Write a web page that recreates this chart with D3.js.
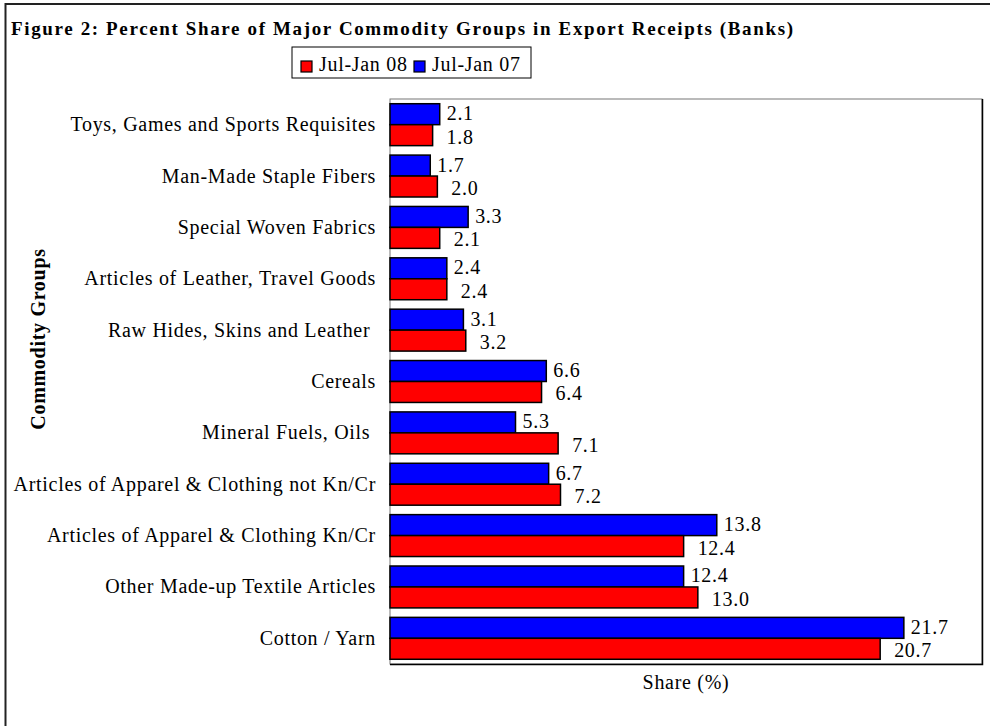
<!DOCTYPE html>
<html>
<head>
<meta charset="utf-8">
<script src="https://cdn.jsdelivr.net/npm/d3@7"></script>
<style>
  body { margin: 0; background: #fff; }
  text { font-family: "Liberation Serif", "Times New Roman", serif; fill: #000; }
</style>
</head>
<body>
<svg width="990" height="726"></svg>
<script>
let categories = [
    "Toys, Games and Sports Requisites",
    "Man-Made Staple Fibers",
    "Special Woven Fabrics",
    "Articles of Leather, Travel Goods",
    "Raw Hides, Skins and Leather ",
    "Cereals",
    "Mineral Fuels, Oils ",
    "Articles of Apparel & Clothing not Kn/Cr",
    "Articles of Apparel & Clothing Kn/Cr",
    "Other Made-up Textile Articles",
    "Cotton / Yarn"
];
let jan07 = [2.1, 1.7, 3.3, 2.4, 3.1, 6.6, 5.3, 6.7, 13.8, 12.4, 21.7];
let jan08 = [1.8, 2.0, 2.1, 2.4, 3.2, 6.4, 7.1, 7.2, 12.4, 13.0, 20.7];
let seriesNames = ["Jul-Jan 08", "Jul-Jan 07"];
let xDomain = [0, 25];

let svg = d3.select("svg");
let fontSize = 20;
let spacing = "0.7px";

// outer frame (only top and left edges are inside the picture)
svg.append("rect")
    .attr("x", 5.5).attr("y", 4)
    .attr("width", 1100).attr("height", 900)
    .attr("fill", "none")
    .attr("stroke", "#222")
    .attr("stroke-width", 2);

svg.append("text")
    .attr("x", 11).attr("y", 35)
    .attr("font-size", 19)
    .attr("font-weight", "bold")
    .attr("textLength", 782)
    .attr("lengthAdjust", "spacing")
    .text("Figure 2: Percent Share of Major Commodity Groups in Export Receipts (Banks)");

let plot = { left: 390, right: 982, top: 99, bottom: 664 };

let x = d3.scaleLinear().domain(xDomain).range([plot.left, plot.right]);
let y = d3.scaleBand()
    .domain(categories)
    .range([plot.top, plot.bottom])
    .paddingInner(0.184)
    .paddingOuter(0.092);
let half = y.bandwidth() / 2;

let rows = categories.map((c, i) => ({ name: c, a: jan07[i], b: jan08[i] }));

// plot frame
svg.append("rect")
    .attr("x", plot.left).attr("y", plot.top)
    .attr("width", plot.right - plot.left)
    .attr("height", plot.bottom - plot.top)
    .attr("fill", "#fff")
    .attr("stroke", "#777")
    .attr("stroke-width", 1);
svg.append("path")
    .attr("d", `M${plot.left},${plot.bottom + 0.5}H${plot.right + 0.5}V${plot.top}`)
    .attr("fill", "none")
    .attr("stroke", "#000")
    .attr("stroke-width", 1.5);

let group = svg.append("g")
    .selectAll("g")
    .data(rows)
    .enter()
    .append("g")
    .attr("transform", (d) => `translate(0,${y(d.name)})`);

group.append("rect")
    .attr("x", x(0))
    .attr("y", 0)
    .attr("width", (d) => x(d.a) - x(0))
    .attr("height", half)
    .attr("fill", "#0000ff")
    .attr("stroke", "#000")
    .attr("stroke-width", 1.5);

group.append("rect")
    .attr("x", x(0))
    .attr("y", half)
    .attr("width", (d) => x(d.b) - x(0))
    .attr("height", half)
    .attr("fill", "#ff0000")
    .attr("stroke", "#000")
    .attr("stroke-width", 1.5);

group.append("text")
    .attr("x", (d) => x(d.a) + 7)
    .attr("y", half / 2 + 6)
    .attr("font-size", fontSize)
    .attr("letter-spacing", spacing)
    .text((d) => d.a.toFixed(1));

group.append("text")
    .attr("x", (d) => x(d.b) + 14)
    .attr("y", half * 1.5 + 8.5)
    .attr("font-size", fontSize)
    .attr("letter-spacing", spacing)
    .text((d) => d.b.toFixed(1));

// category labels
group.append("text")
    .attr("x", 376)
    .attr("y", half + 6.5)
    .attr("text-anchor", "end")
    .attr("font-size", fontSize)
    .attr("letter-spacing", spacing)
    .style("white-space", "pre")
    .text((d) => d.name);

// axis titles
svg.append("text")
    .attr("transform", "translate(45,339) rotate(-90)")
    .attr("text-anchor", "middle")
    .attr("font-size", fontSize)
    .attr("font-weight", "bold")
    .attr("letter-spacing", spacing)
    .text("Commodity Groups");

svg.append("text")
    .attr("x", (plot.left + plot.right) / 2)
    .attr("y", 689)
    .attr("text-anchor", "middle")
    .attr("font-size", fontSize)
    .attr("letter-spacing", spacing)
    .text("Share (%)");

// legend
let legend = svg.append("g").attr("transform", "translate(292,47)");
legend.append("rect")
    .attr("width", 239).attr("height", 31)
    .attr("fill", "#fff")
    .attr("stroke", "#000")
    .attr("stroke-width", 1);
let legendColors = ["#ff0000", "#0000ff"];
let item = legend.selectAll(".item")
    .data(seriesNames)
    .enter()
    .append("g")
    .attr("class", "item")
    .attr("transform", (d, i) => `translate(${9 + i * 113},0)`);
item.append("rect")
    .attr("y", 14).attr("width", 11).attr("height", 11)
    .attr("fill", (d, i) => legendColors[i])
    .attr("stroke", "#000")
    .attr("stroke-width", 1.2);
item.append("text")
    .attr("x", 18).attr("y", 24)
    .attr("font-size", fontSize)
    .attr("letter-spacing", spacing)
    .text((d) => d);
</script>
</body>
</html>
